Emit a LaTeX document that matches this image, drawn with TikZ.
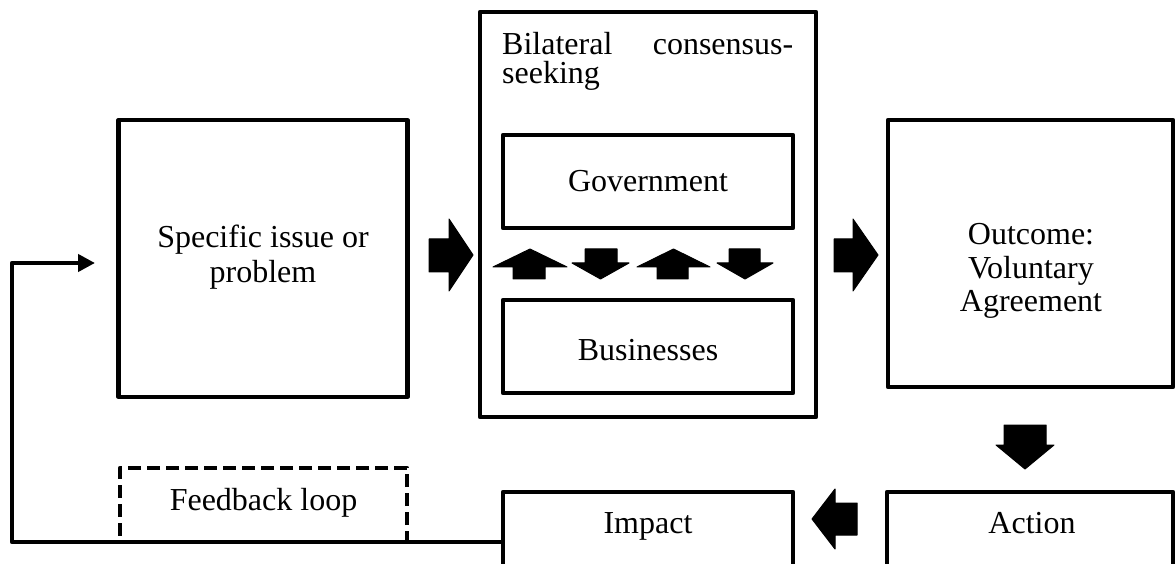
\documentclass[tikz,border=0pt]{standalone}
\usepackage{fontspec}
\setmainfont{Liberation Serif}
\usetikzlibrary{arrows.meta}
\newcommand\ctxt[1]{\vtop{\halign{\hfil##\hfil\cr#1\crcr}}}
\begin{document}
\begin{tikzpicture}[x=1pt,y=-1pt,
  box/.style={draw, line width=4.2pt, line join=round, inner sep=0pt, outer sep=0pt},
  dbox/.style={box, dash pattern=on 13pt off 6pt},
  txt/.style={font=\fontsize{32}{35}\selectfont, inner sep=0pt, anchor=base},
  blk/.style={fill=black, draw=black, line width=1pt, line join=round},
  fbline/.style={line width=4.2pt, line join=round, -{Triangle[length=17pt,width=17pt]}}]
\clip (0,0) rectangle (1176,564);
\fill[white] (0,0) rectangle (1176,564);
% boxes
\node[box, minimum width=289pt, minimum height=277pt] (spec) at (263,258.5) {};
\node[box, minimum width=336pt, minimum height=405pt] (bil) at (648,214.5) {};
\node[box, minimum width=290pt, minimum height=93pt] (gov) at (648,181.5) {};
\node[box, minimum width=290pt, minimum height=93pt] (bus) at (648,346.5) {};
\node[box, minimum width=285pt, minimum height=267pt] (out) at (1030.5,253.5) {};
\node[box, minimum width=286pt, minimum height=100pt] (act) at (1030,542) {};
\node[box, minimum width=290pt, minimum height=100pt] (imp) at (648,542) {};
\node[dbox, minimum width=287pt, minimum height=74pt] (fbk) at (263.5,505) {};
% texts
\node[txt] (spect) at (263,248) {\ctxt{Specific issue or\cr problem}};
\node[txt, anchor=base west] (bilt) at (502,55) {\vtop{\baselineskip=29pt \hbox to 291pt{Bilateral\hfill consensus-}\hbox{seeking}}};
\node[txt] (govt) at (648,192) {Government};
\node[txt] (bust) at (648,360) {Businesses};
\node[txt, font=\fontsize{32}{33.5}\selectfont] (outt) at (1031,245) {\ctxt{Outcome:\cr Voluntary\cr Agreement}};
\node[txt] (actt) at (1032,533) {Action};
\node[txt] (impt) at (648,533) {Impact};
\node[txt] (fbkt) at (263.5,510) {Feedback loop};
% feedback connector
\coordinate (fbA) at (12,542);
\coordinate (fbB) at (12,263);
\coordinate (fbT) at (95,263);
\draw[fbline] (imp.west) -- (fbA) -- (fbB) -- (fbT);
% block arrows
\filldraw[blk] (429,239) -- (449,239) -- (449,219) -- (473,255) -- (449,291) -- (449,272) -- (429,272) -- cycle;
\filldraw[blk] (834,239) -- (853,239) -- (853,219) -- (878,255) -- (853,291) -- (853,272) -- (834,272) -- cycle;
\filldraw[blk] (1004,425) -- (1046,425) -- (1046,445) -- (1054,445) -- (1025,469) -- (996,445) -- (1004,445) -- cycle;
\filldraw[blk] (857,503) -- (835,503) -- (835,489) -- (812,519) -- (835,549) -- (835,535) -- (857,535) -- cycle;
% up/down arrows between Government and Businesses
\filldraw[blk] (513,279) -- (513,267) -- (493,267) -- (530,249) -- (567,267) -- (545,267) -- (545,279) -- cycle;
\filldraw[blk] (585,249) -- (617,249) -- (617,263) -- (629,263) -- (600.5,279) -- (572,263) -- (585,263) -- cycle;
\filldraw[blk] (657,279) -- (657,267) -- (637,267) -- (673.5,249) -- (710,267) -- (688,267) -- (688,279) -- cycle;
\filldraw[blk] (729,249) -- (760,249) -- (760,263) -- (773,263) -- (745,279) -- (717,263) -- (729,263) -- cycle;
\end{tikzpicture}
\end{document}
